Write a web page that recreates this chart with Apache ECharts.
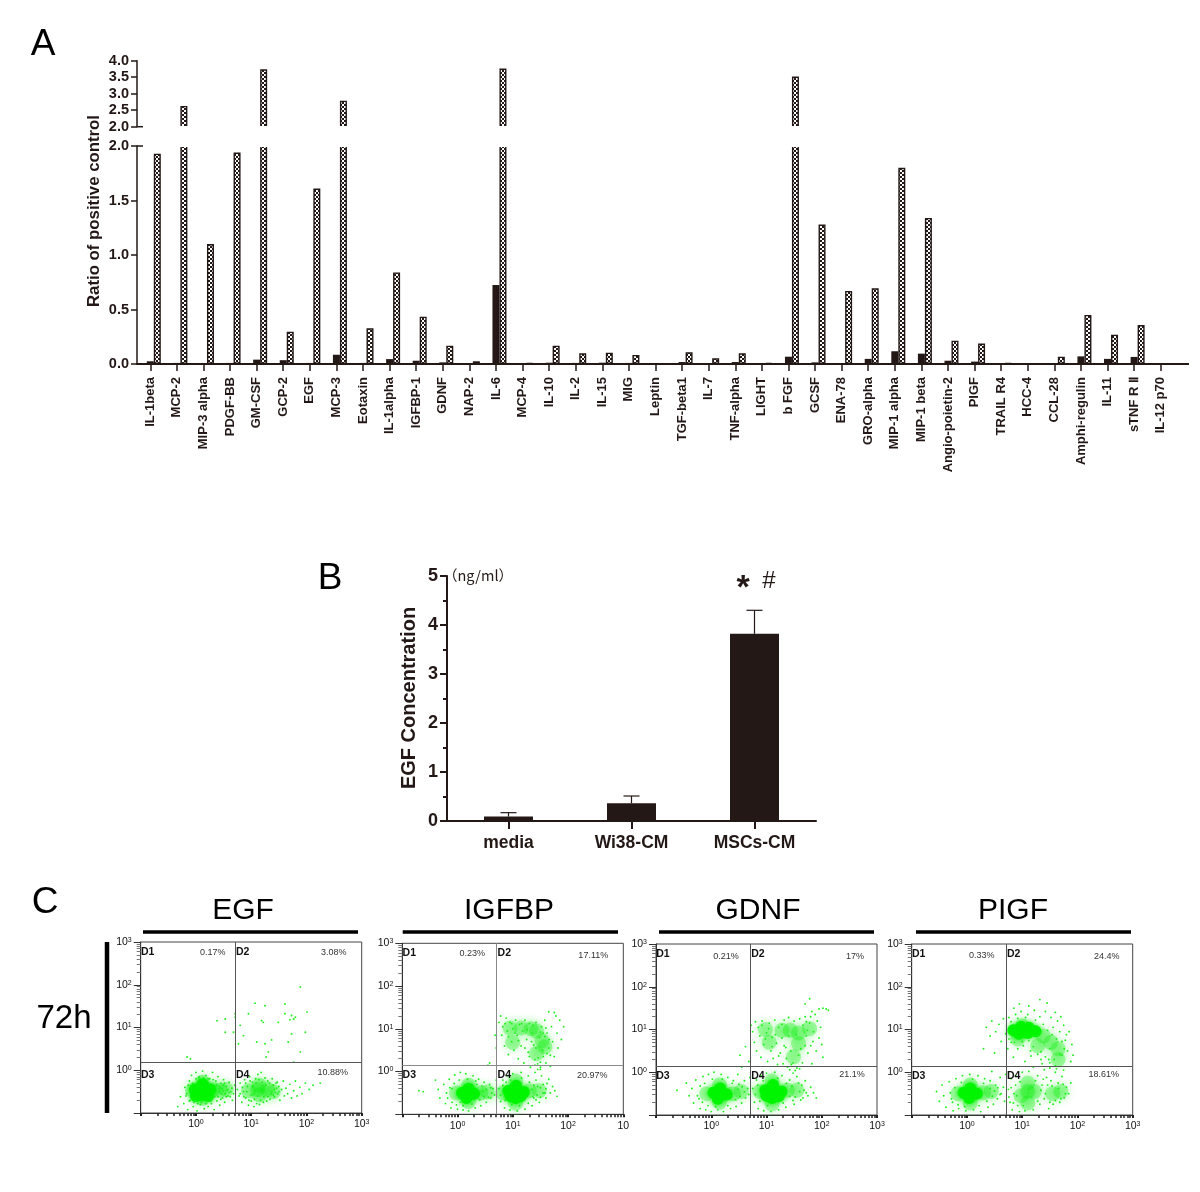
<!DOCTYPE html>
<html><head><meta charset="utf-8">
<style>html,body{margin:0;padding:0;background:#fff}#c{width:1200px;height:1192px}</style>
<script src="https://cdn.jsdelivr.net/npm/echarts@6/dist/echarts.min.js"></script>
</head><body><div id="c"></div>
<script>
// ---------- Panel A data ----------
const cytokines = ['IL-1beta','MCP-2','MIP-3 alpha','PDGF-BB','GM-CSF','GCP-2','EGF','MCP-3','Eotaxin','IL-1alpha','IGFBP-1','GDNF','NAP-2','IL-6','MCP-4','IL-10','IL-2','IL-15','MIG','Leptin','TGF-beta1','IL-7','TNF-alpha','LIGHT','b FGF','GCSF','ENA-78','GRO-alpha','MIP-1 alpha','MIP-1 beta','Angio-poietin-2','PIGF','TRAIL R4','HCC-4','CCL-28','Amphi-regulin','IL-11','sTNF R Ⅱ','IL-12 p70'];
const controlValues = [0.025,0.01,0.005,0.01,0.04,0.035,0.01,0.085,0.01,0.045,0.03,0.015,0.003,0.725,0.002,0.012,0.01,0.012,0.01,0.003,0.018,0.008,0.018,0.006,0.067,0.015,0.004,0.047,0.117,0.095,0.03,0.022,0.002,0.002,0.004,0.07,0.047,0.065,0.003];
const mscValues = [1.93,2.63,1.10,1.94,3.74,0.297,1.61,2.79,0.327,0.84,0.434,0.168,0.025,3.76,0.008,0.168,0.098,0.104,0.083,0.003,0.107,0.052,0.098,0.012,3.52,1.28,0.67,0.694,1.80,1.34,0.214,0.187,0.008,0.004,0.067,0.45,0.269,0.358,0.003];
// ---------- Panel B data ----------
const egfGroups = ['media','Wi38-CM','MSCs-CM'];
const egfMeans = [0.09,0.36,3.82];
const egfErrorTops = [0.17,0.51,4.30];
// ---------- Panel C data: exponents (log10) of the two fluorescence channels ----------
const flowTitles = ['EGF','IGFBP','GDNF','PIGF'];
const quadX = [5.2,5.1,5.1,5.2];
const quadY = [1.5,1.38,1.35,1.41];
const core1 = [[-.02,-.45],[.12,-.32],[.26,-.45],[.1,-.58],[.0,-.6],[.22,-.6],[.12,-.45]];
const haze1 = [[-.06,-.47],[.12,-.28],[.12,-.66],[.32,-.45],[.44,-.47],[.55,-.45],[.95,-.48],[1.12,-.45],[1.3,-.45],[1.15,-.58],[1.15,-.35],[1.4,-.5]];
const dots1 = [[1.89,1.95],[1.07,1.57],[1.25,1.51],[1.61,1.55],[1.73,1.28],[1.77,1.2],[1.7,1.18],[1.8,1.24],[1.61,1.32],[2.01,1.36],[.95,1.32],[.71,1.32],[.71,1.24],[.53,1.2],[.38,1.16],[1.22,1.12],[1.19,1.16],[1.73,.85],[1.98,.89],[1.37,.71],[1.25,.62],[1.1,.66],[1.67,.66],[.77,.62],[.8,1.05],[.86,.81],[1.31,.43],[1.89,.43],[1.27,.31],[-.16,.31],[-.1,.27],[1.77,.19],[.53,.89],[.68,.89],[1.49,1.12],
[-.33,-.85],[-.28,-.62],[-.22,-.78],[-.2,-.4],[-.17,-.55],[-.15,-.92],[-.12,-.25],[-.1,-.7],[-.08,-.12],[-.05,-.85],[0,-.05],[.02,-.95],[.05,-.18],[.08,-.8],[.12,-.02],[.15,-.9],[.18,-.12],[.22,-.85],[.25,-.2],[.28,-.78],[.3,-.05],[.33,-.92],[.36,-.25],[.38,-.72],[.4,-.15],[.43,-.82],[.45,-.3],[.48,-.65],[.5,-.22],[.52,-.75],[.55,-.38],[.58,-.6],[.6,-.28],[.63,-.5],[.65,-.42],[.68,-.55],[.7,-.35],[.42,-.5],[.47,-.42],[.53,-.55],[.5,-.35],[.56,-.47],[.62,-.62],[.66,-.7],
[.75,-.45],[.78,-.6],[.8,-.3],[.83,-.75],[.86,-.5],[.88,-.22],[.9,-.65],[.93,-.38],[.95,-.82],[.97,-.15],[1,-.72],[1.02,-.28],[1.05,-.85],[1.08,-.2],[1.1,-.78],[1.12,-.1],[1.15,-.8],[1.18,-.05],[1.22,-.75],[1.25,-.18],[1.28,-.72],[1.3,-.25],[1.34,-.68],[1.38,-.2],[1.42,-.62],[1.45,-.3],[1.48,-.55],[1.5,-.38],[1.52,-.7],[1.55,-.45],[1.58,-.25],[1.6,-.6],[1.63,-.42],[1.66,-.55],[1.7,-.33],[1.73,-.65],[1.77,-.48],[1.8,-.25],[1.83,-.6],[1.88,-.4],[1.92,-.55],[1.98,-.3],[2.05,-.45],[2.12,-.35],[2.25,-.3],[1.42,-.45],[1.36,-.55],[1.46,-.42],[1.4,-.35],
[-.18,-.6],[-.14,-.35],[-.12,-.72],[-.08,-.48],[-.06,-.3],[-.04,-.75],[.0,-.2],[.03,-.78],[.06,-.15],[.1,-.75],[.14,-.18],[.18,-.78],[.22,-.2],[.27,-.72],[.31,-.22],[.34,-.62],[.37,-.35],[.4,-.62],[.43,-.38],[.46,-.55],[.49,-.48],[.52,-.3],[.55,-.62],[.58,-.45],[.6,-.52],[.45,-.68],[.36,-.48],
[.8,-.55],[.84,-.4],[.87,-.62],[.9,-.3],[.92,-.5],[.96,-.7],[.98,-.25],[1.0,-.58],[1.03,-.38],[1.06,-.68],[1.09,-.3],[1.12,-.6],[1.14,-.22],[1.17,-.7],[1.2,-.28],[1.23,-.62],[1.26,-.35],[1.3,-.62],[1.33,-.3],[1.37,-.5],[1.4,-.58],[1.44,-.52],[1.47,-.28],[1.5,-.5]];
const core2 = [[.08,-.5],[.2,-.4],[.3,-.52],[.16,-.62],[.2,-.52],[.92,-.45],[1.06,-.33],[1.2,-.48],[1.05,-.62],[.96,-.58],[1.14,-.58],[1.07,-.47]];
const haze2 = [[-.02,-.5],[.2,-.32],[.2,-.7],[.42,-.5],[.54,-.48],[.82,-.5],[1.05,-.22],[1.05,-.74],[1.3,-.45],[1.48,-.45],[1.33,1.0],[1.53,.72],[1.43,.42],[1.43,.95],[1.58,.58],[1.15,1.02],[.95,1.02],[1.0,.68]];
const dots2 = [[-.7,-.45],[-.62,-.47],[-.4,-.2],[-.35,-.42],[-.32,-.62],[-.25,-.3],[-.22,-.75],[-.2,-.5],[-.15,-.18],[-.12,-.85],[-.1,-.4],[-.05,-.08],[0,-.88],[.05,-.02],[.1,-.9],[.15,-.05],[.2,-.92],[.28,-.1],[.32,-.85],[.38,-.18],[.42,-.8],[.48,-.25],[.52,-.72],[.58,-.3],[.6,-.62],[.64,-.4],[.67,-.55],[.7,-.2],[.05,-.72],[.35,-.3],
[.75,-.4],[.78,-.7],[.82,-.2],[.85,-.85],[.9,-.1],[.95,-.9],[1,-.05],[1.08,-.92],[1.15,-.02],[1.22,-.88],[1.28,-.1],[1.35,-.8],[1.42,-.2],[1.48,-.72],[1.55,-.3],[1.6,-.62],[1.65,-.18],[1.68,-.5],[1.72,-.35],[1.76,-.45],[1.8,-.58],[1.55,-.5],[1.6,-.4],[1.5,-.6],[1.45,-.35],[1.38,-.62],[1.52,-.1],[1.4,-.02],[1.45,.05],[1.5,.1],
[.75,1.15],[.78,1.3],[.8,.85],[.82,1.05],[.85,.6],[.88,1.25],[.9,.95],[.92,.4],[.95,1.15],[.98,.7],[1,1.0],[1.02,.5],[1.05,1.2],[1.08,.85],[1.1,.3],[1.12,1.1],[1.15,.6],[1.18,.95],[1.2,.2],[1.22,1.2],[1.25,.75],[1.28,.45],[1.3,1.12],[1.32,.1],[1.35,.9],[1.38,.62],[1.4,.28],[1.42,1.15],[1.45,.18],[1.48,.8],[1.5,.05],[1.52,1.05],[1.55,.35],[1.58,1.2],[1.6,.2],[1.62,.9],[1.65,.55],[1.68,.12],[1.7,1.05],[1.72,.7],[1.75,.35],[1.78,1.3],[1.8,.9],[1.82,.55],[1.85,1.2],[1.88,.75],[1.92,1.05],[1.75,1.38],[1.65,1.4],[1.55,.9],[.55,.15],[.7,.55],[.68,.85],[.58,.2],
[-.18,-.62],[-.14,-.38],[-.1,-.72],[-.06,-.28],[-.02,-.78],[.03,-.2],[.1,-.8],[.18,-.18],[.26,-.76],[.33,-.22],[.4,-.66],[.44,-.34],[.48,-.58],[.52,-.42],[.56,-.6],[.6,-.38],[.62,-.5],[.46,-.46],
[.78,-.55],[.82,-.32],[.86,-.68],[.88,-.25],[.98,-.78],[.96,-.2],[1.12,-.8],[1.16,-.15],[1.28,-.74],[1.3,-.25],[1.36,-.58],[1.38,-.32],[1.44,-.55],[1.5,-.38],[1.58,-.5],[1.62,-.28],[1.42,-.66],[1.34,-.42],
[.86,1.12],[.92,.82],[.98,1.12],[1.04,.9],[1.1,.72],[1.16,1.12],[1.22,.55],[1.26,.98],[1.3,.35],[1.34,.7],[1.36,1.08],[1.42,.55],[1.46,.32],[1.5,.92],[1.54,.5],[1.58,.82],[1.62,.42],[1.66,.75],[1.68,.38],[1.5,.22],[1.4,.15],[1.6,1.02]];
const core3 = [[.04,-.48],[.16,-.38],[.28,-.52],[.12,-.62],[.2,-.5],[.98,-.42],[1.12,-.3],[1.27,-.45],[1.1,-.6],[1.0,-.55],[1.22,-.56],[1.13,-.46]];
const haze3 = [[-.08,-.5],[.15,-.3],[.15,-.7],[.4,-.5],[.54,-.45],[.88,-.45],[1.1,-.2],[1.1,-.74],[1.38,-.42],[1.55,-.42],[1.43,.98],[1.58,.67],[1.49,.36],[1.28,.98],[1.58,.92],[.98,1.0],[1.05,.7],[1.78,1.02]];
const dots3 = [[-.62,-.42],[-.45,-.25],[-.4,-.55],[-.35,-.38],[-.32,-.72],[-.28,-.18],[-.22,-.62],[-.2,-.85],[-.15,-.1],[-.1,-.88],[-.05,-.05],[0,-.92],[.05,0],[.12,-.88],[.18,-.05],[.22,-.92],[.3,-.12],[.35,-.85],[.4,-.2],[.45,-.8],[.5,-.28],[.55,-.72],[.6,-.2],[.62,-.6],[.66,-.38],[.68,-.52],[.7,-.12],[.48,-.05],
[.75,-.38],[.78,-.7],[.82,-.18],[.85,-.85],[.9,-.08],[.95,-.9],[1,-.02],[1.08,-.92],[1.15,0],[1.22,-.88],[1.28,-.08],[1.35,-.82],[1.42,-.18],[1.5,-.75],[1.58,-.25],[1.62,-.65],[1.7,-.2],[1.75,-.55],[1.8,-.35],[1.85,-.48],[1.9,-.6],[1.68,-.42],[1.55,-.1],[1.48,-.02],[1.52,.04],[1.42,.06],[1.6,.08],
[.72,1.1],[.75,.95],[.78,.7],[.8,1.18],[.82,.5],[.85,1.05],[.88,.85],[.9,.35],[.92,1.2],[.95,.65],[1,.92],[1.02,.25],[1.05,1.15],[1.08,.5],[1.1,.82],[1.12,.32],[1.15,1.22],[1.18,.68],[1.2,.18],[1.22,1.05],[1.25,.45],[1.28,.8],[1.3,.2],[1.32,1.22],[1.35,.58],[1.38,.12],[1.4,1.28],[1.45,.18],[1.5,1.2],[1.55,.1],[1.6,1.25],[1.65,.22],[1.7,1.3],[1.72,.85],[1.75,.45],[1.78,1.15],[1.8,.62],[1.82,1.42],[1.85,.95],[1.88,1.35],[1.9,.5],[1.92,1.2],[1.95,.8],[1.98,1.05],[2.0,.65],[2.02,.35],[1.82,.2],[2.08,1.48],[1.95,1.48],[2.02,1.5],[2.12,1.45],[1.7,1.6],[1.78,1.72],[.62,.6],[.68,.25],[.52,.4],[.55,.12],
[-.25,-.55],[-.2,-.32],[-.16,-.7],[-.12,-.26],[-.06,-.78],[.02,-.16],[.08,-.8],[.2,-.16],[.3,-.78],[.38,-.26],[.44,-.64],[.48,-.4],[.52,-.56],[.56,-.34],[.6,-.46],
[.8,-.52],[.84,-.3],[.88,-.68],[.94,-.2],[1.02,-.78],[1.2,-.14],[1.3,-.72],[1.36,-.26],[1.42,-.56],[1.46,-.32],[1.52,-.58],[1.6,-.45],[1.66,-.6],[1.72,-.48],[1.64,-.3],[1.48,-.66],
[.92,1.1],[.98,.78],[1.04,1.02],[1.1,.6],[1.16,.88],[1.22,.38],[1.28,1.12],[1.32,.62],[1.36,.32],[1.4,.85],[1.44,.5],[1.48,.22],[1.54,.88],[1.58,.4],[1.62,.55],[1.66,1.1],[1.7,.62],[1.74,.98],[1.8,1.3],[1.84,.72],[1.72,1.18]];
const core4 = [[-.06,-.48],[.06,-.38],[.18,-.5],[.04,-.6],[.1,-.5],[.84,.98],[.98,1.06],[1.12,1.04],[1.24,.96],[.94,.9],[1.1,.92]];
const haze4 = [[-.16,-.5],[.06,-.3],[.06,-.72],[.3,-.48],[.44,-.45],[1.1,-.45],[.98,-.55],[1.22,-.45],[1.1,-.25],[1.1,-.72],[1.55,-.5],[1.7,-.45],[1.38,.85],[1.52,.7],[1.65,.55],[1.28,.62],[1.65,.3],[.92,.78],[1.0,1.08]];
const dots4 = [[-.55,-.45],[-.5,-.68],[-.45,-.3],[-.42,-.55],[-.38,-.82],[-.32,-.22],[-.28,-.62],[-.25,-.9],[-.2,-.15],[-.15,-.85],[-.08,-.08],[-.02,-.9],[.05,-.05],[.12,-.88],[.2,-.08],[.25,-.92],[.32,-.15],[.38,-.82],[.42,-.2],[.48,-.75],[.52,-.3],[.55,-.62],[.6,-.12],[.62,-.5],[.66,-.35],[.68,-.68],[.7,-.05],[.45,.02],
[.75,-.4],[.78,-.7],[.8,-.15],[.82,-.88],[.85,-.5],[.88,-.08],[.92,-.78],[.95,-.92],[1,0],[1.05,-.9],[1.12,.02],[1.2,-.88],[1.28,-.08],[1.32,-.75],[1.36,-.3],[1.4,-.62],[1.44,-.12],[1.48,-.85],[1.52,-.2],[1.56,-.75],[1.6,0],[1.65,-.25],[1.68,-.7],[1.72,-.1],[1.76,-.6],[1.8,-.35],[1.84,-.5],[1.88,-.25],[1.75,.05],[1.62,.08],[1.5,.1],[1.4,.06],
[.3,.55],[.35,1.05],[.42,.85],[.45,1.2],[.5,.45],[.52,.95],[.58,1.12],[.62,.72],[.66,1.25],[.7,.9],[.74,.55],[.76,1.28],[.8,.7],[.84,.35],[.88,1.35],[.92,.55],[.98,1.42],[1.02,.62],[1.05,.25],[1.1,1.35],[1.15,.5],[1.2,.12],[1.22,1.45],[1.28,.42],[1.32,1.3],[1.36,.2],[1.42,1.42],[1.48,.3],[1.52,1.28],[1.56,1.05],[1.6,.15],[1.64,1.2],[1.68,.95],[1.72,.4],[1.75,1.1],[1.78,.75],[1.82,.5],[1.85,.95],[1.88,.25],[1.9,.65],[1.92,.4],[1.45,1.62],[1.32,1.7],[1.12,1.55],[.95,1.6],[.85,1.5],[1.6,1.4],[1.7,1.3],
[-.3,-.48],[-.26,-.7],[-.22,-.36],[-.16,-.76],[-.1,-.24],[-.04,-.8],[.1,-.16],[.22,-.78],[.3,-.26],[.36,-.68],[.42,-.38],[.46,-.56],[.5,-.44],[.56,-.36],[.6,-.52],
[.76,-.58],[.8,-.36],[.84,-.72],[.88,-.3],[.9,-.55],[.96,-.22],[1.02,-.78],[1.24,-.2],[1.28,-.68],[1.34,-.42],[1.38,-.16],[1.42,-.5],[1.46,-.3],[1.5,-.7],[1.54,-.32],[1.6,-.66],[1.66,-.38],[1.74,-.28],[1.78,-.5],[1.7,-.62],
[.76,.78],[.8,1.18],[.86,.7],[.92,1.26],[1.0,.72],[1.06,1.28],[1.12,.74],[1.2,.6],[1.24,1.22],[1.28,.85],[1.34,.48],[1.38,1.12],[1.42,.36],[1.46,.98],[1.5,.55],[1.54,.88],[1.58,.3],[1.62,.78],[1.68,.42],[1.72,.72],[1.76,.55],[1.8,.88],[1.5,.22],[1.34,.3],[1.16,.38]];
const coreClouds = [core1,core2,core3,core4];
const hazeClouds = [haze1,haze2,haze3,haze4];
const dotClouds = [dots1,dots2,dots3,dots4];
const quadrantNames = ['D1','D2','D3','D4'];
const percentLabels = [['0.17%','3.08%','10.88%'],['0.23%','17.11%','20.97%'],['0.21%','17%','21.1%'],['0.33%','24.4%','18.61%']];
const minorDecadeTicks = [0.2,0.3,0.4,0.5,0.6,0.7,0.8,0.9,2,3,4,5,6,7,8,9,20,30,40,50,60,70,80,90,200,300,400,500,600,700,800,900];

// ---------- layout ----------
const INK = '#231815', FONT = '"Liberation Sans",Arial,sans-serif';
const panelBoxes = [{l:140.7,t:942},{l:402.3,t:943.3},{l:656,t:944},{l:911.7,t:944}];
const textOffsets = [
  {D1:[7,10],D2:[102,10],D3:[7,133],D4:[102,133],p:[[72,11],[193,11],[192,131]]},
  {D1:[7,10],D2:[102,10],D3:[7,132],D4:[102,132],p:[[70,10.5],[191,12],[190,132]]},
  {D1:[7,10],D2:[102,10],D3:[7,132],D4:[102,132],p:[[70,12.5],[199,12.5],[196,131]]},
  {D1:[7,10],D2:[102,10],D3:[7,132],D4:[102,132],p:[[70,12],[195,13],[192,131]]}];
const titleCentres = [243,509,758,1013];
const titleRules = [[143,358],[402.7,618],[659,874],[916,1131]];

function hatch(){
  const c=document.createElement('canvas');c.width=4;c.height=4;
  const g=c.getContext('2d');g.fillStyle='#fff';g.fillRect(0,0,4,4);
  g.fillStyle=INK;g.fillRect(0,0,2,2);g.fillRect(2,2,2,2);return c;
}
const hatchFill={image:hatch(),repeat:'repeat'};
const exp10=a=>a.map(([x,y])=>[Math.pow(10,x),Math.pow(10,y)]);

const grid=[
 {left:137,top:60.7,width:1037,height:66},
 {left:137,top:146,width:1037,height:218},
 {left:447,top:576,width:369,height:245}
];
const boldAxis=(size)=>({color:INK,fontFamily:FONT,fontWeight:'bold',fontSize:size});
const xAxis=[
 {gridIndex:0,type:'category',data:cytokines,show:false},
 {gridIndex:1,type:'category',data:cytokines,
  axisLine:{lineStyle:{color:INK,width:2}},axisTick:{show:true,alignWithLabel:true,length:7,lineStyle:{color:INK,width:1.5}},
  axisLabel:{...boldAxis(13),rotate:90,interval:0,margin:13}},
 {gridIndex:2,type:'category',data:egfGroups,
  axisLine:{lineStyle:{color:INK,width:2}},axisTick:{show:true,alignWithLabel:true,length:8,lineStyle:{color:INK,width:2}},
  axisLabel:{...boldAxis(17.5),margin:13}}
];
const yAxis=[
 {gridIndex:0,type:'value',min:2,max:4,interval:0.5,splitLine:{show:false},
  axisLine:{show:true,lineStyle:{color:INK,width:1.5}},axisTick:{show:true,length:6,lineStyle:{color:INK,width:1.5}},
  axisLabel:{...boldAxis(14.5),margin:8,formatter:v=>v.toFixed(1)}},
 {gridIndex:1,type:'value',min:0,max:2,interval:0.5,splitLine:{show:false},
  axisLine:{show:true,lineStyle:{color:INK,width:1.5}},axisTick:{show:true,length:6,lineStyle:{color:INK,width:1.5}},
  axisLabel:{...boldAxis(14.5),margin:8,formatter:v=>v.toFixed(1)}},
 {gridIndex:2,type:'value',min:0,max:5,interval:1,splitLine:{show:false},
  axisLine:{show:true,lineStyle:{color:INK,width:2}},axisTick:{show:true,length:7,lineStyle:{color:INK,width:2}},
  minorTick:{show:true,splitNumber:2,length:4,lineStyle:{color:INK,width:2}},
  axisLabel:{...boldAxis(18),margin:9}}
];
const barCommon={barWidth:7,barGap:'0%',barCategoryGap:0};
const hatched={color:hatchFill,borderColor:INK,borderWidth:1.4};
const solid={color:INK};
const series=[];
[0,1].forEach(g=>{
  const base={type:'bar',xAxisIndex:g,yAxisIndex:g,clip:true,silent:true,...barCommon};
  series.push({...base,name:'offset',data:cytokines.map(()=>null)});
  series.push({...base,name:'control',itemStyle:solid,data:g===0?controlValues.map(()=>null):controlValues});
  series.push({...base,name:'MSCs',itemStyle:hatched,data:g===0?mscValues.map(v=>v>2?v:null):mscValues});
});
series.push({type:'bar',xAxisIndex:2,yAxisIndex:2,name:'EGF',barWidth:49,itemStyle:solid,data:egfMeans});
series.push({type:'custom',xAxisIndex:2,yAxisIndex:2,name:'EGF error',
  data:egfMeans.map((m,i)=>[i,m,egfErrorTops[i]]),encode:{x:0,y:[1,2]},
  renderItem:(p,api)=>{
    const a=api.coord([api.value(0),api.value(1)]),b=api.coord([api.value(0),api.value(2)]);
    const st={stroke:INK,lineWidth:1.2,fill:null};
    return {type:'group',children:[
      {type:'line',shape:{x1:a[0],y1:a[1],x2:b[0],y2:b[1]},style:st},
      {type:'line',shape:{x1:a[0]-8,y1:b[1],x2:a[0]+8,y2:b[1]},style:st}]};
  }});
const graphic=[];
const text=(x,y,t,font,o={})=>graphic.push({type:'text',x,y,rotation:o.rotation||0,silent:true,z:20,
  style:{text:t,font,fill:o.fill||INK,textAlign:o.align||'center',textVerticalAlign:'middle'}});
const rule=(x1,y1,x2,y2,w,c)=>graphic.push({type:'line',silent:true,z:20,shape:{x1,y1,x2,y2},style:{stroke:c||INK,lineWidth:w}});
// the open gap of the broken axis
graphic.push({type:'rect',silent:true,z:19,shape:{x:144,y:126,width:1030,height:21},style:{fill:'#fff'}});
text(43,45,'A',`37px ${FONT}`,{fill:'#000'});
text(330,579,'B',`37px ${FONT}`,{fill:'#000'});
text(45,903,'C',`37px ${FONT}`,{fill:'#000'});
text(94,211,'Ratio of positive control',`bold 16.8px ${FONT}`,{rotation:Math.PI/2});
text(409,698,'EGF Concentration',`bold 20px ${FONT}`,{rotation:Math.PI/2});
text(478,575,'（ng/ml）',`14.5px "Noto Sans CJK SC",${FONT}`);
text(743,589,'*',`bold 34px ${FONT}`);
text(769,581,'#',`24px ${FONT}`);
rule(1174,364,1189,364,2);
rule(137,126.7,143,126.7,1.5);rule(137,146,143,146,1.5);
text(64,1019,'72h',`33px ${FONT}`,{fill:'#000'});
rule(107,942,107,1113,4.5,'#000');

panelBoxes.forEach((b,i)=>{
  const gi=grid.length;
  grid.push({left:b.l,top:b.t,width:221,height:171,show:true,borderColor:'#444',borderWidth:1,backgroundColor:'transparent'});
  const xi=xAxis.length, yi=yAxis.length;
  const baseLog={gridIndex:gi,type:'log',logBase:10,min:0.1,max:1000,splitLine:{show:false},minorTick:{show:false}};
  const supRich={s:{fontSize:7,verticalAlign:'top',lineHeight:7,color:'#111',fontFamily:FONT,padding:[0,0,4,0]},b:{fontSize:10.5,color:'#111',fontFamily:FONT}};
  const fmt=last=>v=>{const e=Math.round(Math.log10(v));if(e<0)return '';if(last&&e===3)return '{b|10}';return `{b|10}{s|${e}}`;};
  xAxis.push({...baseLog,position:'bottom',axisLine:{show:true,lineStyle:{color:'#333'}},axisTick:{show:true,length:3,lineStyle:{color:'#222',width:2}},
    axisLabel:{formatter:fmt(i===1),rich:supRich,margin:6,showMaxLabel:true,showMinLabel:true}});
  xAxis.push({...baseLog,position:'bottom',axisLine:{show:false},axisLabel:{show:false},axisTick:{show:true,length:3,customValues:minorDecadeTicks,lineStyle:{color:'#222',width:1.5}}});
  yAxis.push({...baseLog,position:'left',axisLine:{show:true,lineStyle:{color:'#333'}},axisTick:{show:true,length:7,lineStyle:{color:'#333',width:1}},
    axisLabel:{formatter:fmt(false),rich:supRich,margin:9,showMaxLabel:true,showMinLabel:true}});
  yAxis.push({...baseLog,position:'left',axisLine:{show:false},axisLabel:{show:false},axisTick:{show:true,length:4,customValues:minorDecadeTicks,lineStyle:{color:'#777',width:1}}});
  const sc={type:'scatter',xAxisIndex:xi,yAxisIndex:yi,silent:true};
  series.push({...sc,name:flowTitles[i]+' haze',symbolSize:15,itemStyle:{color:'#00f000',opacity:0.3,shadowBlur:10,shadowColor:'#00f000'},data:exp10(hazeClouds[i])});
  series.push({...sc,name:flowTitles[i]+' core',symbolSize:12,itemStyle:{color:'#00f400',opacity:0.95,shadowBlur:5,shadowColor:'#00f400'},data:exp10(coreClouds[i])});
  series.push({...sc,name:flowTitles[i]+' events',symbolSize:1.9,itemStyle:{color:'#1cf01c',opacity:1},data:exp10(dotClouds[i]),
    markLine:{silent:true,symbol:'none',animation:false,label:{show:false},lineStyle:{color:i===1?'#8a8a8a':'#555',width:1,type:'solid'},
      data:[{xAxis:quadX[i]},{yAxis:quadY[i]}]}});
  text(titleCentres[i],911,flowTitles[i],`30px ${FONT}`,{fill:'#000'});
  rule(titleRules[i][0],932,titleRules[i][1],932,3.5,'#000');
  const o=textOffsets[i];
  quadrantNames.forEach(n=>text(b.l+o[n][0],b.t+o[n][1],n,`bold 10.5px ${FONT}`,{fill:'#111'}));
  percentLabels[i].forEach((p,k)=>text(b.l+o.p[k][0],b.t+o.p[k][1],p,`9px ${FONT}`,{fill:'#333'}));
});

const chart=echarts.init(document.getElementById('c'),null,{renderer:'canvas'});
chart.setOption({animation:false,backgroundColor:'#fff',textStyle:{fontFamily:FONT},grid,xAxis,yAxis,series,graphic});
</script></body></html>
